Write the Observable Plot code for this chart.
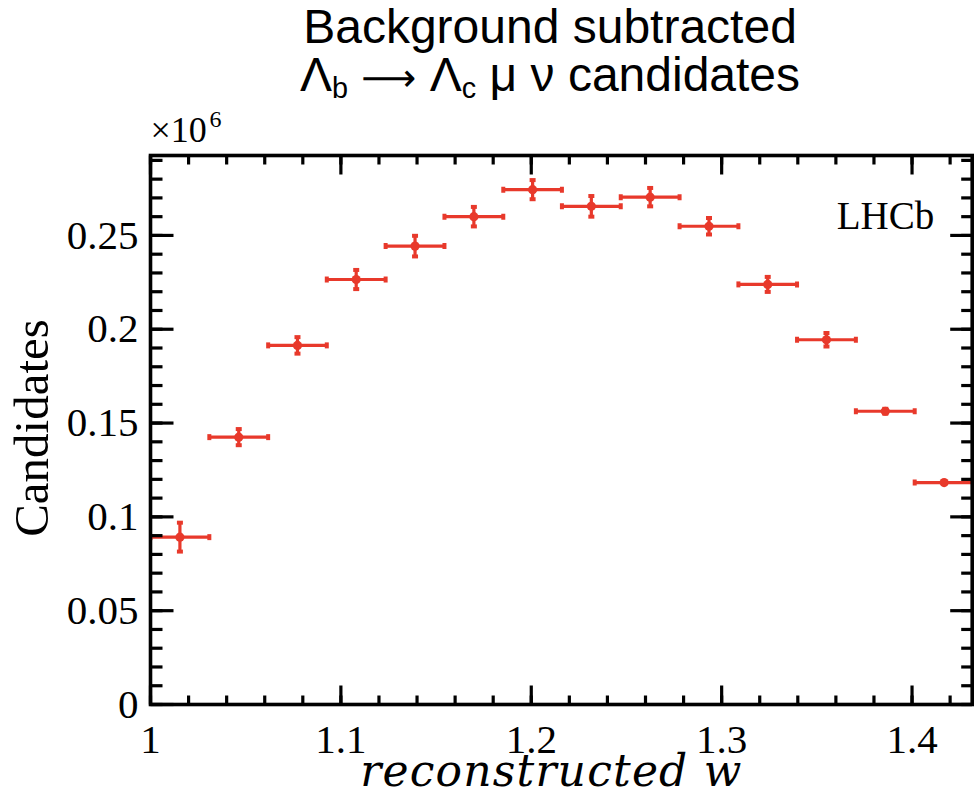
<!DOCTYPE html>
<html><head><meta charset="utf-8">
<script src="https://cdn.jsdelivr.net/npm/d3@7"></script>
<script src="https://cdn.jsdelivr.net/npm/@observablehq/plot@0.6"></script>
<style>
body{margin:0;background:#fff;}
#wrap{position:relative;width:974px;height:798px;overflow:hidden;}
.t{position:absolute;left:550px;transform:translateX(-50%);white-space:nowrap;font-family:"Liberation Sans",Arial,sans-serif;font-size:48px;line-height:48px;color:#000;}
.t sub{font-size:0.6em;vertical-align:-0.25em;line-height:0;}
.t .arr{font-family:"DejaVu Sans",sans-serif;font-size:0.8em;}
#plot{position:absolute;left:0;top:100px;}
</style></head><body>
<div id="wrap">
<div class="t" style="top:3px">Background subtracted</div>
<div class="t" style="top:51px">Λ<sub>b</sub> <span class="arr">⟶</span> Λ<sub>c</sub> μ ν candidates</div>
<div id="plot"></div>
</div>
<script>
// Bin edges in reconstructed w (14 bins up to w_max)
const binEdges = [1.0000, 1.0309, 1.0618, 1.0926, 1.1235, 1.1544, 1.1853, 1.2161, 1.2470, 1.2779, 1.3088, 1.3396, 1.3705, 1.4014, 1.4323];
// Background-subtracted candidates, in units of 10^6
const candidatesE6 = [0.0892, 0.1425, 0.1914, 0.2265, 0.2443, 0.2600, 0.2744, 0.2655, 0.2704, 0.2549, 0.2239, 0.1944, 0.1563, 0.1183];
const errorsE6     = [0.0077, 0.0043, 0.0044, 0.0051, 0.0055, 0.0052, 0.0051, 0.0055, 0.0049, 0.0044, 0.0040, 0.0036, 0.0013, 0.0008];
// Axis ticks and labels
const xMajorTicks = [1, 1.1, 1.2, 1.3, 1.4];
const xTickLabels = ["1", "1.1", "1.2", "1.3", "1.4"];
const yMajorTicks = [0, 0.05, 0.1, 0.15, 0.2, 0.25];
const yTickLabels = ["0", "0.05", "0.1", "0.15", "0.2", "0.25"];
const xMinorStep = 0.02;
const yMinorStep = 0.01;
const xLabel = "reconstructed w";
const yLabel = "Candidates";
const exponentBase = "×10";
const exponentPower = "6";
const experimentLabel = "LHCb";

const red = "#e8392b";
const serif = "'Liberation Serif', 'Times New Roman', serif";
const xDomain = [1, 1.4316];
const yDomain = [0, 0.2926];

const bins = candidatesE6.map((v, i) => ({
  lo: binEdges[i], hi: binEdges[i + 1], x: (binEdges[i] + binEdges[i + 1]) / 2, y: v, e: errorsE6[i]
}));
const xMinor = d3.range(xDomain[0], xDomain[1], xMinorStep);
const yMinor = d3.range(yDomain[0], yDomain[1], yMinorStep);

const lineShape = {draw(context, l) { context.moveTo(0, 0); context.lineTo(0, -l); }};
const tick = (data, opts) => Plot.vector(data, {anchor: "start", shape: lineShape, stroke: "black", strokeWidth: 3.2, strokeLinecap: "butt", ...opts});
const cap = (data, opts) => Plot.vector(data, {length: 6, anchor: "middle", shape: lineShape, stroke: red, strokeWidth: 4, strokeLinecap: "butt", ...opts});

const chart = Plot.plot({
  width: 974, height: 698,
  marginLeft: 150, marginRight: 2.3, marginTop: 55, marginBottom: 94,
  x: {domain: xDomain, axis: null},
  y: {domain: yDomain, axis: null},
  style: {background: "white", overflow: "visible"},
  marks: [
    // error bars
    Plot.ruleY(bins, {y: "y", x1: "lo", x2: "hi", stroke: red, strokeWidth: 3.2, clip: true}),
    Plot.ruleX(bins, {x: "x", y1: d => d.y - d.e, y2: d => d.y + d.e, stroke: red, strokeWidth: 3.2}),
    cap(bins, {x: "lo", y: "y", rotate: 0, clip: true}),
    cap(bins, {x: "hi", y: "y", rotate: 0, clip: true}),
    cap(bins, {x: "x", y: d => d.y - d.e, rotate: 90}),
    cap(bins, {x: "x", y: d => d.y + d.e, rotate: 90}),
    Plot.dot(bins, {x: "x", y: "y", r: 4.6, fill: red}),
    // ticks (inward, on all four sides)
    tick(xMinor, {x: d => d, frameAnchor: "bottom", rotate: 0, length: 9}),
    tick(xMajorTicks, {x: d => d, frameAnchor: "bottom", rotate: 0, length: 19}),
    tick(xMinor, {x: d => d, frameAnchor: "top", rotate: 180, length: 9}),
    tick(xMajorTicks, {x: d => d, frameAnchor: "top", rotate: 180, length: 19}),
    tick(yMinor, {y: d => d, frameAnchor: "left", rotate: 90, length: 12}),
    tick(yMajorTicks, {y: d => d, frameAnchor: "left", rotate: 90, length: 23}),
    tick(yMinor, {y: d => d, frameAnchor: "right", rotate: -90, length: 11}),
    tick(yMajorTicks, {y: d => d, frameAnchor: "right", rotate: -90, length: 22}),
    Plot.frame({stroke: "black", strokeWidth: 3.6}),
    // tick labels
    Plot.text(yMajorTicks, {y: d => d, text: (d, i) => yTickLabels[i], frameAnchor: "left", textAnchor: "end", dx: -12, fontSize: 41, fontFamily: serif, fill: "black"}),
    Plot.text(xMajorTicks, {x: d => d, text: (d, i) => xTickLabels[i], frameAnchor: "bottom", lineAnchor: "top", dy: 19, fontSize: 41, fontFamily: serif, fill: "black"}),
    // axis labels
    Plot.text([yLabel], {frameAnchor: "left", textAnchor: "middle", rotate: -90, dx: -118, dy: -2, fontSize: 49, fontFamily: serif, fill: "black"}),
    Plot.text([xLabel], {frameAnchor: "bottom", textAnchor: "middle", lineAnchor: "top", dy: 50, dx: -10, fontSize: 44, fontStyle: "italic", fontFamily: "'DejaVu Serif', serif", fill: "black"}),
    Plot.text([exponentBase], {frameAnchor: "top-left", textAnchor: "start", lineAnchor: "bottom", dy: -14, fontSize: 36, fontFamily: serif, fill: "black"}),
    Plot.text([exponentPower], {frameAnchor: "top-left", textAnchor: "start", lineAnchor: "bottom", dx: 59, dy: -29, fontSize: 24, fontFamily: serif, fill: "black"}),
    Plot.text([experimentLabel], {frameAnchor: "top-right", textAnchor: "end", lineAnchor: "top", dx: -38, dy: 46, fontSize: 39, fontFamily: serif, fill: "black"})
  ]
});
document.getElementById("plot").appendChild(chart);
for (const t of chart.querySelectorAll("text")) {
  if (t.textContent === xLabel) { t.setAttribute("letter-spacing", "1.2"); }
}
</script>
</body></html>
